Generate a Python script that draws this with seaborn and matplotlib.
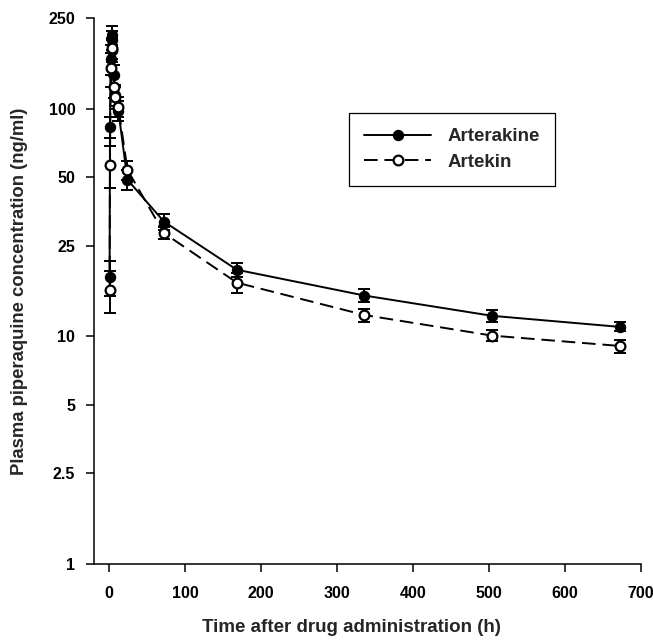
import numpy as np
import pandas as pd
import matplotlib
matplotlib.use('Agg')
import matplotlib.pyplot as plt
from matplotlib.ticker import FixedLocator, FixedFormatter
import seaborn as sns

# sampling times (h)
time_h = [0.5, 1, 2, 3, 4, 6, 8, 12, 24, 72, 168, 336, 504, 672]

# Arterakine: mean and SE (ng/ml)
arterakine_mean = [18.2, 83, 165, 210, 200, 140, 115, 98, 48.7, 31.9, 19.6, 15.1, 12.3, 11.0]
arterakine_err = [3.2, 9, 25, 20, 20, 15, 12, 10, 5, 2.6, 1.4, 1.0, 0.7, 0.5]

# Artekin: mean and SE (ng/ml)
artekin_mean = [16.0, 56.6, 150, 180, 185, 125, 112, 102, 53.8, 28.4, 17.2, 12.4, 10.07, 9.07]
artekin_err = [3.3, 12, 25, 20, 20, 14, 12, 10, 5, 1.7, 1.7, 0.8, 0.55, 0.6]

y_ticks = [1, 2.5, 5, 10, 25, 50, 100, 250]
y_tick_labels = ['1', '2.5', '5', '10', '25', '50', '100', '250']
x_ticks = [0, 100, 200, 300, 400, 500, 600, 700]

df_a = pd.DataFrame({'time': time_h, 'conc': arterakine_mean, 'err': arterakine_err})
df_b = pd.DataFrame({'time': time_h, 'conc': artekin_mean, 'err': artekin_err})

sns.set_style('ticks')
plt.rcParams['font.family'] = ['Liberation Sans', 'DejaVu Sans']
plt.rcParams['font.weight'] = 'bold'

fig = plt.figure(figsize=(6.53, 6.42), dpi=100)
ax = fig.add_axes([0.144, 0.1215, 0.8375, 0.8505])

lw = 1.4
ax.errorbar(df_a['time'], df_a['conc'], yerr=df_a['err'], fmt='none', ecolor='black',
            elinewidth=lw, capsize=4.5, capthick=lw, zorder=2)
ax.errorbar(df_b['time'], df_b['conc'], yerr=df_b['err'], fmt='none', ecolor='black',
            elinewidth=lw, capsize=4.5, capthick=lw, zorder=2)

sns.lineplot(data=df_a, x='time', y='conc', ax=ax, color='black', linewidth=lw,
             marker='o', markersize=7, markerfacecolor='black', markeredgecolor='black',
             markeredgewidth=1.2, label='Arterakine', zorder=3)
sns.lineplot(data=df_b, x='time', y='conc', ax=ax, color='black', linewidth=lw,
             linestyle=(0, (7, 3.5)), marker='o', markersize=7, markerfacecolor='white',
             markeredgecolor='black', markeredgewidth=1.6, label='Artekin', zorder=4)

ax.set_yscale('log')
ax.set_ylim(1, 250)
ax.set_xlim(-20, 700)
ax.yaxis.set_major_locator(FixedLocator(y_ticks))
ax.yaxis.set_major_formatter(FixedFormatter(y_tick_labels))
ax.yaxis.set_minor_locator(FixedLocator([]))
ax.set_xticks(x_ticks)

ax.tick_params(axis='both', which='major', length=5.5, width=1.1, labelsize=11.5, colors='black')
for lab in ax.get_xticklabels() + ax.get_yticklabels():
    lab.set_fontweight('bold')
ax.tick_params(axis='x', pad=10)
ax.tick_params(axis='y', pad=8)

sns.despine(ax=ax)
for side in ['left', 'bottom']:
    ax.spines[side].set_linewidth(1.1)
    ax.spines[side].set_color('black')

ax.set_xlabel('Time after drug administration (h)', fontsize=13.5, fontweight='bold')
ax.xaxis.set_label_coords(0.47, -0.10)
ax.set_ylabel('Plasma piperaquine concentration (ng/ml)', fontsize=13.3, fontweight='bold')
ax.yaxis.set_label_coords(-0.12, 0.5)

leg = ax.legend(loc='upper left', bbox_to_anchor=(0.466, 0.826), borderaxespad=0,
                fancybox=False, framealpha=1, edgecolor='black', handlelength=3.6,
                prop={'weight': 'bold', 'size': 13.5}, borderpad=0.8, labelspacing=0.45,
                handletextpad=0.85)
leg.get_frame().set_linewidth(0.9)

fig.savefig('out.png', dpi=100)
